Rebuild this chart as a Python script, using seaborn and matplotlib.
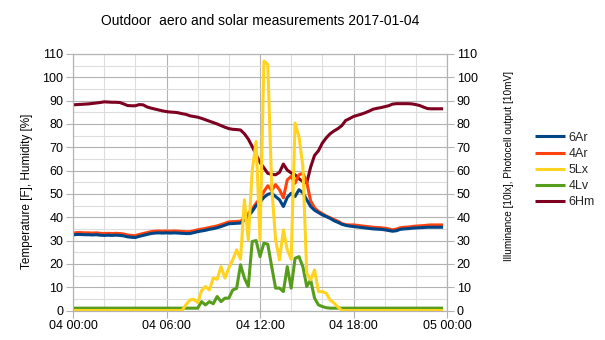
import numpy as np
import pandas as pd
import matplotlib
matplotlib.use("Agg")
import matplotlib.pyplot as plt
from matplotlib.ticker import MultipleLocator, FixedLocator, FixedFormatter
import seaborn as sns

# 15-minute samples over the day (hours since 04 00:00)
hours = np.arange(96) * 0.25

temp_6Ar = [
    32.4, 32.6, 32.6, 32.5, 32.5, 32.4, 32.5, 32.3, 32.2, 32.3, 32.2, 32.3,
    32.2, 32.0, 31.6, 31.4, 31.3, 31.8, 32.2, 32.6, 33.0, 33.2, 33.3, 33.2,
    33.3, 33.2, 33.3, 33.2, 33.1, 33.0, 33.0, 33.4, 33.8, 34.1, 34.4, 34.8,
    35.1, 35.5, 36.0, 36.6, 37.2, 37.3, 37.4, 37.5, 38.8, 40.5, 42.5, 45.0,
    46.5, 48.5, 49.8, 50.3, 48.9, 47.5, 44.6, 48.5, 50.3, 48.9, 51.8, 50.5,
    47.5, 44.6, 43.0, 42.0, 41.0, 40.3, 39.5, 38.5, 37.8, 37.0, 36.5, 36.2,
    36.0, 35.8, 35.6, 35.4, 35.2, 35.0, 34.9, 34.8, 34.6, 34.3, 34.0, 34.2,
    34.8, 35.0, 35.1, 35.3, 35.4, 35.5, 35.6, 35.7, 35.7, 35.7, 35.7, 35.7,
]
temp_4Ar = [
    33.2, 33.4, 33.4, 33.3, 33.3, 33.2, 33.3, 33.1, 33.0, 33.1, 33.0, 33.1,
    33.0, 32.8, 32.4, 32.2, 32.1, 32.6, 33.0, 33.4, 33.8, 34.0, 34.1, 34.0,
    34.1, 34.0, 34.1, 34.0, 33.9, 33.8, 33.8, 34.2, 34.6, 34.9, 35.2, 35.6,
    35.9, 36.3, 36.8, 37.4, 38.0, 38.1, 38.2, 38.3, 39.5, 41.5, 43.5, 46.0,
    48.0, 51.0, 53.5, 51.5, 54.0, 51.8, 48.3, 56.0, 57.5, 54.6, 58.2, 58.9,
    55.0, 47.0, 44.0, 42.5, 41.5, 40.5, 39.8, 39.0, 38.3, 37.3, 36.8, 36.7,
    36.7, 36.5, 36.3, 36.1, 35.9, 35.7, 35.6, 35.5, 35.3, 35.0, 34.6, 34.9,
    35.5, 35.7, 35.8, 36.0, 36.2, 36.3, 36.4, 36.6, 36.7, 36.7, 36.7, 36.7,
]
lux_5Lx = [
    0, 0, 0, 0, 0, 0, 0, 0, 0, 0, 0, 0,
    0, 0, 0, 0, 0, 0, 0, 0, 0, 0, 0, 0,
    0, 0, 0, 0, 0.0, 2.5, 4.5, 4.8, 3.4, 8.5, 10.3, 8.8,
    13.9, 13.4, 18.8, 13.9, 18.3, 21.7, 26.0, 22.0, 47.5, 30.3, 60.0, 72.5,
    30.3, 107.0, 105.5, 53.0, 30.3, 21.7, 34.6, 26.0, 22.0, 80.4, 74.6, 61.8,
    16.0, 13.1, 17.4, 8.1, 8.1, 7.4, 4.5, 3.2, 1.5, 0, 0, 0,
    0, 0, 0, 0, 0, 0, 0, 0, 0, 0, 0, 0,
    0, 0, 0, 0, 0, 0, 0, 0, 0, 0, 0, 0,
]
cell_4Lv = [
    1, 1, 1, 1, 1, 1, 1, 1, 1, 1, 1, 1,
    1, 1, 1, 1, 1, 1, 1, 1, 1, 1, 1, 1,
    1, 1, 1, 1, 1, 1, 1, 1, 1.0, 3.8, 2.4, 3.8,
    2.9, 6.0, 3.8, 5.3, 5.3, 8.8, 9.5, 19.6, 13.9, 10.3, 29.6, 30.0,
    23.1, 28.9, 28.4, 18.8, 9.6, 9.6, 8.1, 18.8, 9.6, 22.4, 23.1, 18.8,
    10.3, 13.1, 5.3, 2.4, 1.7, 1.2, 1.0, 1.0, 1, 1, 1, 1,
    1, 1, 1, 1, 1, 1, 1, 1, 1, 1, 1, 1,
    1, 1, 1, 1, 1, 1, 1, 1, 1, 1, 1, 1,
]
hum_6Hm = [
    88.2, 88.3, 88.4, 88.5, 88.6, 88.8, 89.0, 89.2, 89.5, 89.4, 89.3, 89.3,
    89.2, 88.6, 87.9, 87.8, 87.8, 88.3, 88.2, 87.3, 86.8, 86.4, 86.0, 85.6,
    85.3, 85.1, 85.0, 84.8, 84.4, 84.1, 83.5, 83.2, 82.9, 82.4, 81.8, 81.2,
    80.6, 80.0, 79.3, 78.6, 78.0, 77.7, 77.6, 77.4, 75.8, 73.5, 70.3, 66.8,
    63.5, 61.2, 58.8, 58.4, 58.2, 59.2, 62.8, 60.2, 59.0, 58.2, 56.5, 55.3,
    54.7, 61.5, 66.5, 68.5, 71.8, 74.0, 75.8, 77.0, 78.0, 79.3, 81.5, 82.3,
    83.2, 83.7, 84.2, 84.8, 85.5, 86.3, 86.7, 87.0, 87.4, 87.8, 88.5, 88.7,
    88.7, 88.7, 88.7, 88.6, 88.3, 87.9, 87.2, 86.6, 86.5, 86.5, 86.5, 86.5,
]

x_ticks = [0, 6, 12, 18, 24]
x_tick_labels = ["04 00:00", "04 06:00", "04 12:00", "04 18:00", "05 00:00"]
title = "Outdoor  aero and solar measurements 2017-01-04"

colors = {
    "6Ar": "#004586",
    "4Ar": "#ff420e",
    "5Lx": "#ffd320",
    "4Lv": "#579d1c",
    "6Hm": "#7e0021",
}

sns.set_theme(style="white")
plt.rcParams["font.family"] = ["Liberation Sans", "DejaVu Sans"]

fig = plt.figure(figsize=(6.05, 3.4), dpi=100)
ax = fig.add_axes([73 / 605, 29.5 / 340, 374 / 605, 256.5 / 340])
ax2 = ax.twinx()

lw = 2.2
line_kw = dict(linewidth=lw, solid_joinstyle="round", solid_capstyle="butt")

df = pd.DataFrame({"t": hours, "6Ar": temp_6Ar, "4Ar": temp_4Ar,
                   "5Lx": lux_5Lx, "4Lv": cell_4Lv, "6Hm": hum_6Hm})

for name in ["6Hm", "4Ar", "6Ar"]:
    sns.lineplot(data=df, x="t", y=name, color=colors[name], ax=ax,
                 legend=False, label=name, **line_kw)
for name in ["4Lv", "5Lx"]:
    sns.lineplot(data=df, x="t", y=name, color=colors[name], ax=ax2,
                 legend=False, label=name, **line_kw)

grid_major = "#b3b3b3"
grid_minor = "#dddddd"

for a in (ax, ax2):
    a.set_xlim(0, 24)
    a.set_ylim(0, 110)
    a.set_xlabel("")
    for s in a.spines.values():
        s.set_color(grid_major)
        s.set_linewidth(0.8)

ax.yaxis.set_major_locator(MultipleLocator(10))
ax.yaxis.set_minor_locator(MultipleLocator(5))
ax2.yaxis.set_major_locator(MultipleLocator(10))
ax.xaxis.set_major_locator(FixedLocator(x_ticks))
ax.xaxis.set_major_formatter(FixedFormatter(x_tick_labels))
ax.xaxis.set_minor_locator(MultipleLocator(2))

ax.grid(which="major", color=grid_major, linewidth=0.8)
ax.grid(which="minor", color=grid_minor, linewidth=0.8)
ax.set_axisbelow(True)

tick_kw = dict(direction="out", length=5, width=0.8, color=grid_major,
               labelsize=9, labelcolor="black", pad=2)
ax.tick_params(axis="both", which="major", **tick_kw)
ax.tick_params(axis="both", which="minor", length=0)
ax.tick_params(axis="y", left=True)
ax.tick_params(axis="x", bottom=True)
ax2.tick_params(axis="y", which="major", right=True, **tick_kw)

ax.set_ylabel("Temperature [F], Humidity [%]", fontsize=8.5, color="black")
ax.yaxis.label.set_verticalalignment("center")
ax.yaxis.set_label_coords((27 - 73) / 374, (310.6 - 191) / 256.6)
ax2.set_ylabel("Illuminance [10lx], Photocell output [10mV]", fontsize=7.2,
               color="black")
ax2.yaxis.label.set_verticalalignment("center")
ax2.yaxis.set_label_coords((509 - 73) / 374, (310.6 - 166) / 256.6)

fig.text((73 + 447) / 2 / 605, 1 - 21 / 340, title, ha="center", va="center",
         fontsize=10, color="black")

h1, l1 = ax.get_legend_handles_labels()
h2, l2 = ax2.get_legend_handles_labels()
lookup = dict(zip(l1 + l2, h1 + h2))
order = ["6Ar", "4Ar", "5Lx", "4Lv", "6Hm"]
fig.legend([lookup[k] for k in order], order, loc="center left",
           bbox_to_anchor=(529 / 605, 0.5), frameon=False, fontsize=9,
           handlelength=2.4, handletextpad=0.25, labelspacing=0.33,
           borderpad=0)

fig.savefig("out.png", dpi=100)
